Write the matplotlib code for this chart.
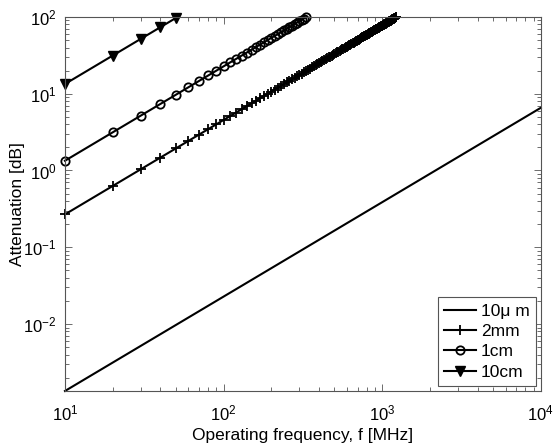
import matplotlib

matplotlib.use("Agg")

import matplotlib.pyplot as plt
import numpy as np

plt.rcParams["font.family"] = ["Liberation Sans", "DejaVu Sans"]
plt.rcParams["mathtext.fontset"] = "custom"
plt.rcParams["mathtext.rm"] = "Liberation Sans"
plt.rcParams["mathtext.it"] = "Liberation Sans:italic"
plt.rcParams["axes.unicode_minus"] = False

# cable lengths and how far each curve runs before hitting 100 dB
labels = ["10\u03bc m", "2mm", "1cm", "10cm"]
length_cm = [0.001, 0.2, 1.0, 10.0]
f_stop_mhz = [10000, 1230, 330, 50]
markers = ["None", "+", "o", "v"]

# attenuation per cm: power law in frequency
alpha_10mhz_db_per_cm = 1.34
alpha_exponent = 1.23
f_step_mhz = 10

fig = plt.figure(figsize=(5.53, 4.47), dpi=100)
ax = fig.add_axes([0.1175, 0.1253, 0.8605, 0.8367])

for label, length, f_stop, mk in zip(labels, length_cm, f_stop_mhz, markers):
    f = np.arange(10, f_stop + 1, f_step_mhz)
    att = length * alpha_10mhz_db_per_cm * (f / 10.0) ** alpha_exponent
    kw = dict(color="black", linewidth=1.5, label=label, clip_on=False)
    if mk == "o":
        kw.update(marker="o", markersize=6, markerfacecolor="none",
                  markeredgewidth=1.3)
    elif mk == "v":
        kw.update(marker="v", markersize=6.5, markerfacecolor="black")
    elif mk == "+":
        kw.update(marker="+", markersize=7, markeredgewidth=1.3)
    ax.plot(f, att, **kw)

ax.set_xscale("log")
ax.set_yscale("log")
ax.set_xlim(10, 1e4)
ax.set_ylim(0.00134, 100)

for side in ax.spines.values():
    side.set_color("#555555")
    side.set_linewidth(0.8)
ax.tick_params(which="both", direction="in", top=True, right=True,
               color="#555555", labelsize=12)
ax.tick_params(axis="x", pad=9)
ax.tick_params(axis="y", pad=6)
ax.tick_params(which="major", length=5, width=0.6)
ax.tick_params(which="minor", length=3, width=0.6)

ax.set_xlabel("Operating frequency, f [MHz]", fontsize=12.5)
ax.set_ylabel("Attenuation [dB]", fontsize=12.5)
ax.xaxis.set_label_coords(0.5, -0.099)
ax.yaxis.set_label_coords(-0.083, 0.5)

leg = ax.legend(loc="lower right", fontsize=12.5, fancybox=False,
                framealpha=1, edgecolor="#555555", handlelength=1.85,
                borderaxespad=0.3, labelspacing=0.3, handletextpad=0.25,
                borderpad=0.35)
leg.get_frame().set_linewidth(0.8)

fig.savefig("out.png", dpi=100)
